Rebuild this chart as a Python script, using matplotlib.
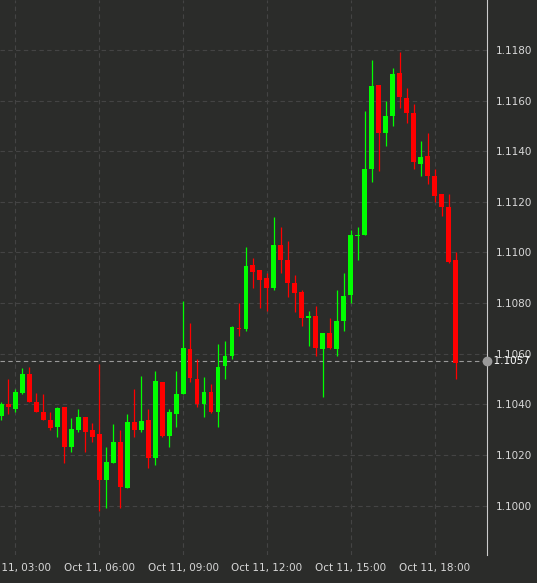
import matplotlib
matplotlib.use("Agg")
import matplotlib.pyplot as plt
import numpy as np

opens  = [1.10354,1.1040,1.1038,1.10445,1.1052,1.1041,1.1037,1.1034,1.1031,1.1039,
          1.1023,1.1030,1.1035,1.1030,1.10283,1.1010,1.10168,1.1025,1.1007,1.10331,
          1.1030,1.1034,1.1019,1.1049,1.10275,1.1036,1.1044,1.1062,1.1050,1.1040,
          1.1045,1.1037,1.1055,1.1059,1.1070,1.10698,1.1095,1.1093,1.1090,1.1086,
          1.1103,1.1097,1.1088,1.10844,1.1074,1.1075,1.1062,1.1068,1.1062,1.1073,
          1.1083,1.11065,1.1107,1.1133,1.1166,1.1147,1.1154,1.1171,1.1161,1.1155,
          1.1135,1.1138,1.1130,1.1123,1.1118,1.1097]
highs  = [1.1041,1.1050,1.1046,1.10544,1.10548,1.10445,1.1044,1.1037,1.1039,1.1039,
          1.10346,1.1038,1.1035,1.10327,1.1056,1.10232,1.10322,1.1030,1.10362,1.1046,
          1.10512,1.1038,1.1053,1.1049,1.1038,1.1053,1.1081,1.10722,1.1058,1.1051,
          1.1048,1.1064,1.1065,1.1071,1.1080,1.1102,1.1098,1.1093,1.1092,1.1114,
          1.1110,1.11046,1.1091,1.1085,1.1077,1.1079,1.1068,1.1074,1.1085,1.1092,
          1.1109,1.1110,1.1156,1.1176,1.1166,1.1160,1.1173,1.1179,1.1165,1.11587,
          1.1144,1.1147,1.1133,1.1123,1.1123,1.1100]
lows   = [1.1034,1.1036,1.1037,1.1044,1.1041,1.1037,1.1034,1.1030,1.1027,1.1017,
          1.1021,1.1029,1.1021,1.1025,1.0998,1.0999,1.1017,1.0999,1.1007,1.1027,
          1.1029,1.1015,1.1016,1.1027,1.1023,1.1031,1.1044,1.1049,1.1039,1.1035,
          1.10366,1.1031,1.1050,1.1058,1.1067,1.1069,1.1086,1.1078,1.1077,1.1085,
          1.1092,1.10824,1.10765,1.1071,1.1063,1.1059,1.1043,1.1062,1.1059,1.1069,
          1.1080,1.1097,1.1107,1.1128,1.1132,1.1142,1.1150,1.1157,1.1151,1.1133,
          1.1130,1.1127,1.1120,1.11145,1.1096,1.1050]
closes = [1.10402,1.1039,1.10449,1.10520,1.1041,1.1037,1.10339,1.10307,1.10386,1.10232,
          1.10303,1.10351,1.1029,1.1027,1.10101,1.10173,1.10251,1.10074,1.10331,1.1030,
          1.10335,1.10188,1.10493,1.10275,1.1037,1.10441,1.10623,1.10505,1.1040,1.10449,
          1.1037,1.10548,1.10591,1.10706,1.10698,1.10947,1.10923,1.10892,1.1086,1.11030,
          1.10970,1.1088,1.1084,1.10742,1.1075,1.10623,1.10682,1.10623,1.10730,1.10828,
          1.11069,1.1107,1.1133,1.11658,1.11472,1.11539,1.11705,1.11614,1.1155,1.11358,
          1.11378,1.1130,1.11223,1.1118,1.10963,1.10564]
start_minutes = 2*60 + 30  # first candle at 02:30, 15-minute candles
tick_labels = ["Oct 11, 03:00","Oct 11, 06:00","Oct 11, 09:00",
               "Oct 11, 12:00","Oct 11, 15:00","Oct 11, 18:00"]
tick_hours = [3, 6, 9, 12, 15, 18]
price_ticks = [1.1000,1.1020,1.1040,1.1060,1.1080,1.1100,1.1120,1.1140,1.1160,1.1180]
last_price = 1.1057

bg = "#2b2c2a"
fig = plt.figure(figsize=(5.37, 5.83), dpi=100, facecolor=bg)
ax = fig.add_axes([0, 0.048, 487/537, 0.952], facecolor=bg)

n = len(opens)
x = np.arange(n)
for i in range(n):
    up = closes[i] >= opens[i]
    c = "#00ff00" if up else "#ff0000"
    ax.vlines(x[i], lows[i], highs[i], color=c, lw=0.9, zorder=3)
    lo, hi = min(opens[i], closes[i]), max(opens[i], closes[i])
    ax.bar(x[i], max(hi - lo, 0.00004), bottom=lo, width=0.7, color=c, zorder=4, linewidth=0)

ax.set_xlim(-0.2, 69.5)
ax.set_ylim(1.09805, 1.11997)

tpos = [(h*60 - start_minutes)/15 for h in tick_hours]
ax.set_xticks(tpos)
ax.set_xticklabels(tick_labels)
ax.yaxis.tick_right()
ax.set_yticks(price_ticks)
ax.set_yticklabels([f"{p:.4f}" for p in price_ticks])
ax.tick_params(colors="#d8d8d8", labelsize=7.5, length=0, pad=6)
ax.grid(True, color="#444444", ls=(0, (4, 3)), lw=0.8)
for s in ["top", "left", "bottom"]:
    ax.spines[s].set_visible(False)
ax.spines["right"].set_color("#cccccc")
ax.spines["right"].set_linewidth(0.8)

ax.axhline(last_price, color="#9a9a9a", ls=(0, (4, 3)), lw=0.8, zorder=2)
ax.plot([69.5], [last_price], "o", color="#9a9a9a", ms=6, clip_on=False, zorder=6)
ax.text(1.0, last_price, "  1.1057", transform=ax.get_yaxis_transform(),
        color="#ffffff", fontsize=7.5, va="center", ha="left")

fig.savefig("out.png", dpi=100, facecolor=bg)
